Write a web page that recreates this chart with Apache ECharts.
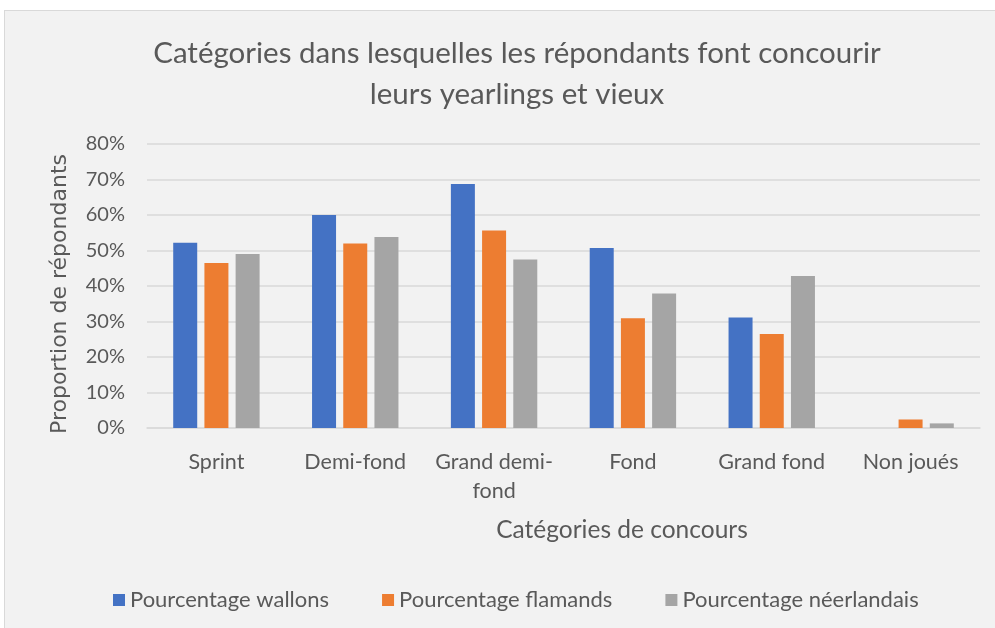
<!DOCTYPE html>
<html lang="fr">
<head>
    <meta charset="UTF-8">
    <title>Catégories de concours</title>
    <script src="https://cdn.jsdelivr.net/npm/echarts@6/dist/echarts.min.js"></script>
    <style>
        body { margin: 0; background: #ffffff; }
        #panel { position: absolute; left: 4px; top: 10px; width: 1000px; height: 630px;
                 background: #f2f2f2; border: 1px solid #d9d9d9; box-sizing: border-box; }
        #main { position: absolute; left: 0; top: 0; width: 995px; height: 628px; }
    </style>
</head>
<body>
<div id="panel"></div>
<div id="main"></div>
<script>
    // données (en %)
    var categories = ['Sprint', 'Demi-fond', 'Grand demi-fond', 'Fond', 'Grand fond', 'Non joués'];
    var wallons = [52.2, 60.0, 68.7, 50.7, 31.1, 0];
    var flamands = [46.5, 52.0, 55.6, 30.9, 26.5, 2.4];
    var neerlandais = [49.0, 53.8, 47.5, 37.9, 42.8, 1.3];
    var seriesNames = ['Pourcentage wallons', 'Pourcentage flamands', 'Pourcentage néerlandais'];

    var txt = '#595959';
    var font = 'Lato';

    var myChart = echarts.init(document.getElementById('main'));

    var option = {
        backgroundColor: 'transparent',
        color: ['#4472c4', '#ed7d31', '#a5a5a5'],
        title: [
            {
                text: 'Catégories dans lesquelles les répondants font concourir\nleurs yearlings et vieux',
                left: 512, top: 28, textAlign: 'center',
                textStyle: { color: txt, fontFamily: font, fontSize: 29.5, fontWeight: 'normal', lineHeight: 41 }
            },
            {
                text: 'Catégories de concours',
                left: 617, top: 513, textAlign: 'center',
                textStyle: { color: txt, fontFamily: font, fontSize: 24.5, fontWeight: 'normal' }
            }
        ],
        legend: {
            data: seriesNames,
            bottom: 12,
            left: 108,
            itemWidth: 12,
            itemHeight: 12,
            itemGap: 53,
            icon: 'rect',
            textStyle: { color: txt, fontFamily: font, fontSize: 22 }
        },
        grid: { left: 147, right: 15, top: 144, bottom: 200 },
        xAxis: {
            type: 'category',
            data: categories,
            axisLine: { show: true, lineStyle: { color: '#d9d9d9', width: 1.5 } },
            axisTick: { show: false },
            axisLabel: {
                color: txt, fontFamily: font, fontSize: 21.5, margin: 20, lineHeight: 29,
                interval: 0,
                formatter: function (v) { return v === 'Grand demi-fond' ? 'Grand demi-\nfond' : v; }
            }
        },
        yAxis: {
            type: 'value',
            min: 0, max: 80, interval: 10,
            name: 'Proportion de répondants',
            nameLocation: 'middle',
            nameGap: 76,
            nameTextStyle: { color: txt, fontFamily: 'DejaVu Sans', fontSize: 22, padding: [0, 16, 0, 0] },
            axisLine: { show: false },
            axisTick: { show: false },
            splitLine: { lineStyle: { color: '#d9d9d9', width: 1.5 } },
            axisLabel: { color: txt, fontFamily: font, fontSize: 20, margin: 22, formatter: '{value}%' }
        },
        series: [
            { name: seriesNames[0], type: 'bar', data: wallons, barWidth: 24, barGap: '30%' },
            { name: seriesNames[1], type: 'bar', data: flamands, barWidth: 24, barGap: '30%' },
            { name: seriesNames[2], type: 'bar', data: neerlandais, barWidth: 24, barGap: '30%' }
        ]
    };

    myChart.setOption(option);
</script>
</body>
</html>
